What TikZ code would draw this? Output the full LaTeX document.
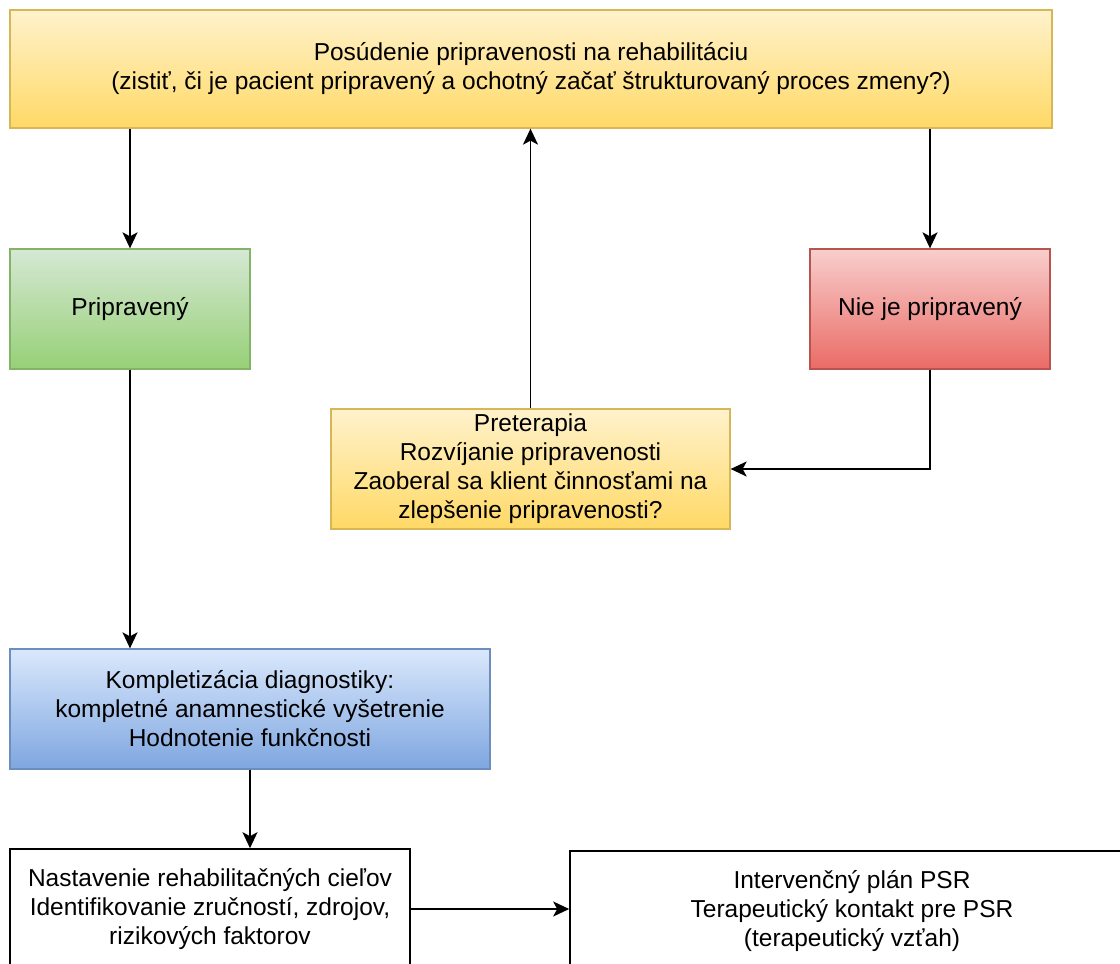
\documentclass[tikz,border=0pt]{standalone}
\usepackage{fontspec}
\setmainfont{Liberation Sans}
\usetikzlibrary{arrows.meta}
\definecolor{yelTop}{HTML}{FFF2CC}
\definecolor{yelBot}{HTML}{FFD966}
\definecolor{yelLine}{HTML}{D6B656}
\definecolor{grnTop}{HTML}{D5E8D4}
\definecolor{grnBot}{HTML}{97D077}
\definecolor{grnLine}{HTML}{82B366}
\definecolor{redTop}{HTML}{F8CECC}
\definecolor{redBot}{HTML}{EA6B66}
\definecolor{redLine}{HTML}{B85450}
\definecolor{bluTop}{HTML}{DAE8FC}
\definecolor{bluBot}{HTML}{7EA6E0}
\definecolor{bluLine}{HTML}{6C8EBF}
\begin{document}
\begin{tikzpicture}[x=1pt,y=-1pt,
  box/.style={rectangle, draw, line width=1.3pt, inner sep=0pt, align=center,
    font=\fontsize{24.5}{29}\selectfont},
  yel/.style={box, draw=yelLine, top color=yelTop, bottom color=yelBot},
  grn/.style={box, draw=grnLine, top color=grnTop, bottom color=grnBot},
  rd/.style={box, draw=redLine, top color=redTop, bottom color=redBot},
  blu/.style={box, draw=bluLine, top color=bluTop, bottom color=bluBot},
  wht/.style={box, draw=black, fill=white, line width=1.6pt},
  arr/.style={-{Stealth[length=16pt,width=15pt,inset=4pt]}, line width=1.8pt, draw=black}]
\useasboundingbox (0,0) rectangle (1120,964);
\clip (0,0) rectangle (1120,964);
\fill[white] (0,0) rectangle (1120,964);

\node[yel, minimum width=1042pt, minimum height=118pt] (top) at (531,69)
  {Posúdenie pripravenosti na rehabilitáciu\\(zistiť, či je pacient pripravený a ochotný začať štrukturovaný proces zmeny?)};
\node[grn, minimum width=240pt, minimum height=120pt] (ready) at (130,309) {Pripravený};
\node[rd, minimum width=240pt, minimum height=120pt] (notready) at (930,309) {Nie je pripravený};
\node[yel, minimum width=399pt, minimum height=120pt] (pre) at (530.5,469)
  {Preterapia\\Rozvíjanie pripravenosti\\Zaoberal sa klient činnosťami na\\zlepšenie pripravenosti?};
\node[blu, minimum width=480pt, minimum height=120pt] (diag) at (250,709)
  {Kompletizácia diagnostiky:\\kompletné anamnestické vyšetrenie\\Hodnotenie funkčnosti};
\node[wht, minimum width=400pt, minimum height=120pt] (goals) at (210,909)
  {Nastavenie rehabilitačných cieľov\\Identifikovanie zručností, zdrojov,\\rizikových faktorov};
\node[wht, minimum width=564pt, minimum height=120pt] (plan) at (852,911)
  {Intervenčný plán PSR\\Terapeutický kontakt pre PSR\\(terapeutický vzťah)};

\draw[arr] (ready.north |- top.south) -- (ready.north);
\draw[arr] (notready.north |- top.south) -- (notready.north);
\draw[arr] (pre.north) -- (pre.north |- top.south);
\draw[arr] (notready.south) |- (pre.east);
\draw[arr] (ready.south) -- (ready.south |- diag.north);
\draw[arr] (diag.south) -- (diag.south |- goals.north);
\draw[arr] (goals.east) -- (goals.east -| plan.west);
\end{tikzpicture}
\end{document}
